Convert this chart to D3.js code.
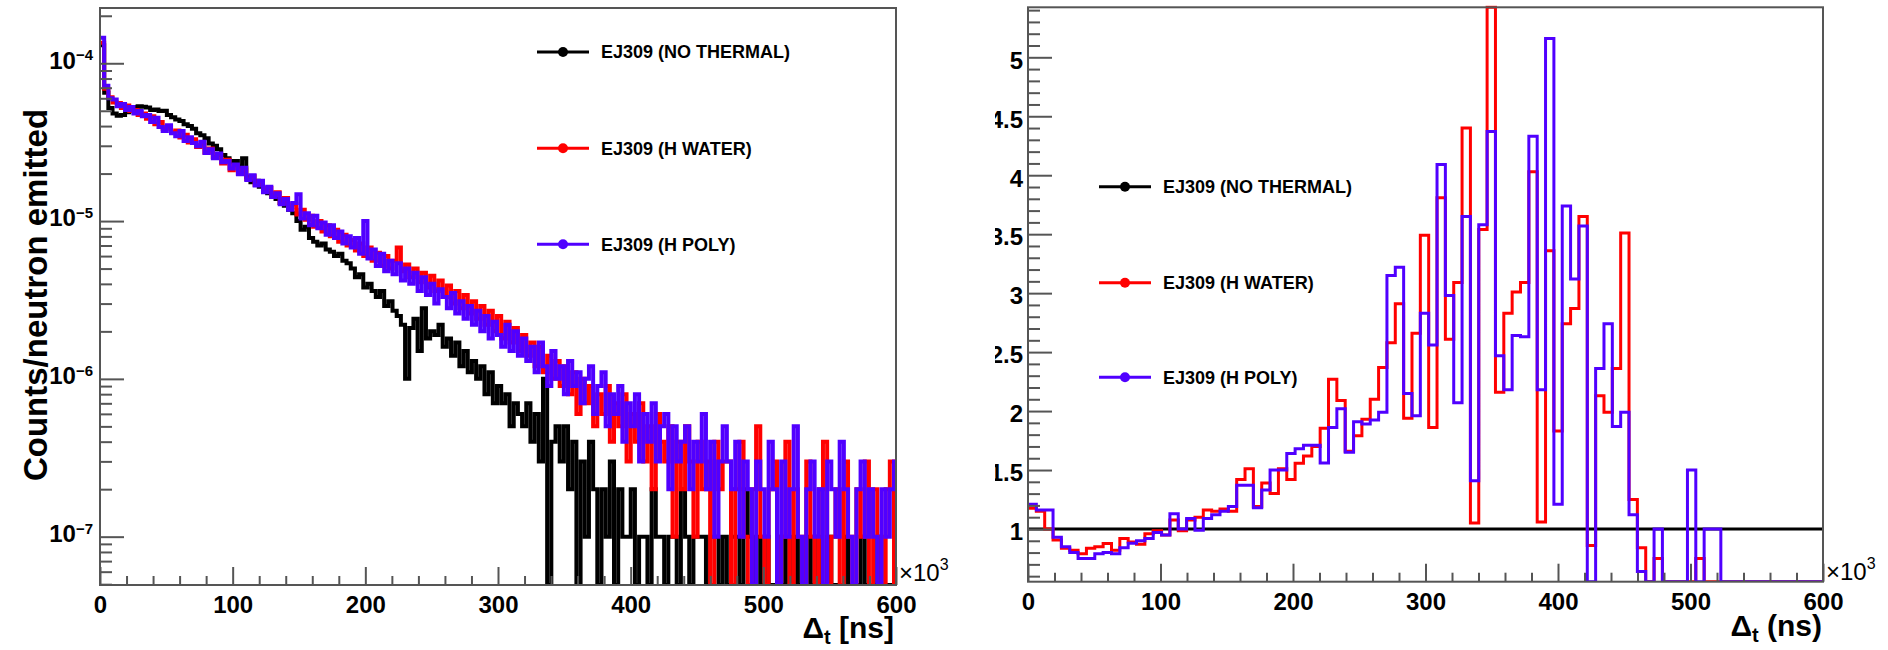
<!DOCTYPE html>
<html>
<head>
<meta charset="utf-8">
<script src="https://cdn.jsdelivr.net/npm/d3@7"></script>
<style>
  body { margin: 0; background: #fff; }
  svg { display: block; }
  text { font-family: "Liberation Sans", Arial, Helvetica, sans-serif; }
</style>
</head>
<body>
<svg id="chart" width="1888" height="650"></svg>
<script>
// ---------------- data ----------------
const seriesNames  = ["EJ309 (NO THERMAL)", "EJ309 (H WATER)", "EJ309 (H POLY)"];
const seriesColors = ["#000000", "#ff0000", "#5000ff"];

// Left: time-difference spectra, counts per bin (1 count = 1e-7 per neutron emitted)
const countUnit = 1e-7;
const spectrumBinWidth = 3.15;   // ×10^3 ns
const countsNoThermal = [
  1300, 650, 520, 480, 465, 470, 490, 510, 528, 535,
  530, 525, 505, 510, 498, 500, 470, 455, 440, 430,
  410, 400, 385, 360, 350, 335, 310, 300, 285, 262,
  250, 238, 240, 222, 250, 190, 176, 180, 165, 158,
  150, 142, 138, 130, 125, 118, 112, 100, 88, 92,
  78, 74, 70, 72, 66, 64, 60, 62, 56, 54,
  50, 44, 46, 38, 40, 36, 33, 36, 29, 31,
  27, 25, 22, 10, 21, 24, 15, 28, 18, 20,
  19, 22, 16, 18, 14, 17, 12, 15, 11, 13,
  10, 12, 8, 11, 7, 9, 7, 8, 5, 7,
  6, 5, 7, 4, 6, 3, 10, 0, 4, 5,
  3, 5, 2, 4, 0, 3, 1, 4, 2, 0,
  2, 1, 3, 0, 2, 1, 1, 2, 0, 1,
  1, 0, 2, 1, 1, 0, 1, 1, 0, 2,
  1, 0, 1, 1, 1, 0, 1, 1, 0, 1,
  0, 1, 1, 0, 2, 1, 0, 1, 0, 1,
  0, 0, 1, 0, 1, 0, 1, 0, 0, 1,
  0, 1, 0, 0, 1, 0, 0, 0, 1, 0,
  0, 0, 1, 0, 0, 0, 1, 0, 0, 0, 0
];
const countsWater = [
  1350, 690, 610, 565, 560, 520, 540, 498, 505, 470,
  480, 445, 462, 410, 425, 385, 398, 365, 375, 338,
  352, 315, 330, 295, 305, 272, 288, 255, 262, 232,
  245, 210, 226, 200, 212, 185, 192, 170, 178, 158,
  162, 145, 152, 130, 140, 122, 128, 110, 118, 102,
  108, 92, 100, 86, 94, 80, 88, 74, 82, 70,
  76, 65, 72, 60, 68, 56, 63, 52, 60, 50,
  56, 68, 48, 53, 44, 50, 41, 47, 38, 45,
  36, 42, 33, 39, 30, 36, 28, 34, 26, 31,
  24, 29, 22, 27, 20, 25, 18, 23, 17, 21,
  15, 19, 14, 17, 12, 16, 11, 14, 10, 13,
  9, 12, 8, 11, 6, 10, 7, 9, 5, 8,
  6, 9, 4, 7, 5, 8, 3, 6, 4, 7,
  3, 5, 2, 6, 4, 3, 5, 1, 4, 2,
  5, 3, 1, 4, 2, 3, 0, 4, 2, 3,
  3, 0, 2, 4, 1, 0, 2, 5, 1, 0,
  2, 3, 0, 1, 4, 0, 2, 1, 0, 3,
  1, 0, 2, 4, 0, 1, 2, 0, 3, 1,
  0, 2, 1, 3, 0, 2, 1, 0, 2, 3, 0
];
const countsPoly = [
  1450, 720, 600, 590, 535, 552, 505, 528, 480, 498,
  462, 470, 425, 452, 395, 372, 405, 360, 345, 372,
  322, 340, 312, 298, 318, 270, 285, 250, 268, 236,
  240, 215, 228, 198, 218, 182, 195, 168, 180, 152,
  165, 142, 150, 128, 138, 118, 130, 148, 104, 112,
  94, 108, 90, 98, 82, 94, 78, 86, 72, 80,
  68, 78, 62, 100, 58, 66, 52, 62, 48, 56,
  46, 54, 42, 50, 40, 47, 36, 44, 34, 40,
  30, 37, 33, 28, 35, 26, 31, 24, 29, 22,
  27, 20, 25, 18, 23, 19, 16, 22, 15, 20,
  14, 18, 13, 16, 11, 17, 12, 9, 15, 10,
  12, 8, 13, 9, 11, 7, 10, 12, 6, 9,
  11, 5, 8, 6, 9, 4, 7, 5, 8, 3,
  6, 4, 7, 3, 5, 6, 2, 5, 3, 4,
  5, 2, 4, 3, 6, 2, 4, 1, 3, 5,
  3, 2, 4, 1, 3, 2, 0, 3, 2, 1,
  4, 2, 0, 3, 1, 2, 5, 1, 0, 2,
  3, 1, 2, 0, 3, 2, 1, 4, 2, 1,
  0, 2, 3, 1, 2, 1, 0, 2, 1, 2, 3
];

// Right: ratio to the no-thermal spectrum
const ratioBinWidth = 6.3;       // ×10^3 ns
const ratioNoThermal = [
  1,1,1,1,1,1,1,1,1,1, 1,1,1,1,1,1,1,1,1,1, 1,1,1,1,1,1,1,1,1,1,
  1,1,1,1,1,1,1,1,1,1, 1,1,1,1,1,1,1,1,1,1, 1,1,1,1,1,1,1,1,1,1,
  1,1,1,1,1,1,1,1,1,1, 1,1,1,1,1,1,1,1,1,1, 1,1,1,1,1,1,1,1,1,1,
  1,1,1,1,1,1
];
const ratioWater = [
  1.175, 1.15, 1.00, 0.907, 0.836, 0.82, 0.79, 0.836, 0.85, 0.878,
  0.82, 0.92, 0.89, 0.87, 0.96, 0.985, 0.95, 1.076, 0.985, 1.076,
  1.10, 1.16, 1.15, 1.17, 1.15, 1.42, 1.51, 1.19, 1.39, 1.30,
  1.51, 1.42, 1.557, 1.62, 1.70, 1.854, 2.27, 2.09, 1.66, 1.79,
  1.93, 2.10, 2.37, 2.58, 2.91, 1.94, 2.66, 3.49, 1.86, 3.81,
  2.61, 3.09, 4.40, 1.05, 3.54, 5.60, 2.16, 2.83, 3.01, 3.09,
  4.03, 1.06, 3.36, 1.83, 2.74, 2.87, 3.65, 0.86, 2.13, 1.99,
  2.36, 3.51, 1.25, 0.84, 0, 0.75, 0, 0, 0, 0,
  0.75, 0, 0, 0, 0, 0, 0, 0, 0, 0,
  0, 0, 0, 0, 0, 0
];
const ratioPoly = [
  1.21, 1.16, 1.16, 0.93, 0.85, 0.80, 0.75, 0.75, 0.79, 0.80,
  0.79, 0.84, 0.88, 0.90, 0.92, 0.97, 0.95, 1.13, 1.00, 1.09,
  0.99, 1.09, 1.12, 1.15, 1.19, 1.37, 1.37, 1.18, 1.33, 1.50,
  1.50, 1.64, 1.68, 1.71, 1.71, 1.56, 1.86, 2.02, 1.65, 1.91,
  1.89, 1.925, 1.99, 3.15, 3.22, 2.15, 1.96, 2.83, 2.56, 4.09,
  2.98, 2.07, 3.65, 1.41, 3.58, 4.37, 2.47, 2.18, 2.64, 2.63,
  4.33, 2.18, 5.16, 1.21, 3.74, 3.12, 3.57, 0, 2.36, 2.74,
  1.87, 1.99, 1.12, 0.64, 0, 1.00, 0, 0, 0, 1.50,
  0, 1.00, 1.00, 0, 0, 0, 0, 0, 0, 0,
  0, 0, 0, 0, 0, 0
];

const xTicksMajor = [0, 100, 200, 300, 400, 500, 600];
const logMajorExp = [-7, -6, -5, -4];
const ratioMajor = [1, 1.5, 2, 2.5, 3, 3.5, 4, 4.5, 5];

// ---------------- drawing ----------------
const svg = d3.select("#chart");
const FRAME = "#555";
const FONT = '"Liberation Sans", Arial, Helvetica, sans-serif';

function stepPath(values, binW, x, y) {
  let d = "";
  values.forEach((v, i) => {
    const x0 = x(i * binW), x1 = x((i + 1) * binW), yy = y(v);
    d += (i === 0 ? `M${x0},${yy}` : `V${yy}`) + `H${x1}`;
  });
  return d;
}

function minorRange(lo, hi, step, skip) {
  const out = [];
  for (let v = lo; v <= hi + 1e-9; v += step) {
    const r = Math.round(v * 1000) / 1000;
    if (!skip.some(s => Math.abs(s - r) < 1e-6)) out.push(r);
  }
  return out;
}

function xAxis(g, x, bottom) {
  const minors = minorRange(0, 600, 20, xTicksMajor);
  g.append("g").attr("transform", `translate(0,${bottom})`)
    .call(d3.axisBottom(x).tickValues(minors).tickSize(-9).tickFormat(""))
    .call(s => s.select(".domain").remove());
  g.append("g").attr("transform", `translate(0,${bottom})`)
    .call(d3.axisBottom(x).tickValues(xTicksMajor).tickSize(-18).tickPadding(11).tickFormat(d3.format("d")))
    .call(s => s.select(".domain").remove())
    .call(s => s.selectAll("text").attr("font-size", 24).attr("font-weight", "bold")
      .attr("font-family", FONT).attr("fill", "#000"));
  g.selectAll(".tick line").attr("stroke", FRAME).attr("stroke-width", 2);
}

function frame(g, x0, y0, x1, y1) {
  g.append("rect").attr("x", x0).attr("y", y0).attr("width", x1 - x0).attr("height", y1 - y0)
    .attr("fill", "none").attr("stroke", FRAME).attr("stroke-width", 2);
}

function exponentLabel(g, xPos, yPos) {
  g.append("text").attr("x", xPos).attr("y", yPos).attr("font-size", 24).attr("fill", "#000")
    .text("\u00d710").append("tspan").attr("font-size", 16).attr("dy", "-0.7em").text("3");
}

function axisTitle(g, xRight, yBase, unit) {
  const t = g.append("text").attr("x", xRight).attr("y", yBase).attr("text-anchor", "end")
    .attr("font-size", 30).attr("font-weight", "bold").attr("fill", "#000");
  t.append("tspan").text("\u0394");
  t.append("tspan").attr("font-size", 20).attr("dy", 6).text("t");
  t.append("tspan").attr("dy", -6).text(" " + unit);
}

function legend(g, x0, rows) {
  rows.forEach((yy, i) => {
    g.append("line").attr("x1", x0).attr("x2", x0 + 52).attr("y1", yy).attr("y2", yy)
      .attr("stroke", seriesColors[i]).attr("stroke-width", 3);
    g.append("circle").attr("cx", x0 + 26).attr("cy", yy).attr("r", 5).attr("fill", seriesColors[i]);
    g.append("text").attr("x", x0 + 64).attr("y", yy).attr("dy", "0.36em").attr("font-size", 18)
      .attr("font-weight", "bold").attr("fill", "#000").text(seriesNames[i]);
  });
}

// ===== Left panel =====
{
  const L = { x0: 100, x1: 896, y0: 8, y1: 585 };
  const x = d3.scaleLinear().domain([0, 600]).range([L.x0, L.x1]);
  const y = d3.scaleLog().domain([4.94e-8, 2.24e-4]).range([L.y1, L.y0]).clamp(true);
  const yv = v => v > 0 ? y(v) : L.y1;
  const g = svg.append("g");

  svg.append("defs").append("clipPath").attr("id", "clipL")
    .append("rect").attr("x", L.x0).attr("y", L.y0 - 2).attr("width", L.x1 - L.x0).attr("height", L.y1 - L.y0 + 2);

  const spectra = [countsNoThermal, countsWater, countsPoly];
  const plot = g.append("g").attr("clip-path", "url(#clipL)");
  spectra.forEach((c, i) => {
    plot.append("path")
      .attr("d", stepPath(c.map(n => n * countUnit), spectrumBinWidth, x, yv))
      .attr("fill", "none").attr("stroke", seriesColors[i]).attr("stroke-width", 4)
      .attr("stroke-linejoin", "miter");
  });

  // y axis (log)
  const majors = logMajorExp.map(e => Math.pow(10, e));
  const minors = [];
  for (let e = -8; e <= -4; e++) for (let m = 2; m <= 9; m++) {
    const v = m * Math.pow(10, e);
    if (v >= 4.94e-8 && v <= 2.24e-4) minors.push(v);
  }
  g.append("g").attr("transform", `translate(${L.x0},0)`)
    .call(d3.axisLeft(y).tickValues(minors).tickSize(-12).tickFormat(""))
    .call(s => s.select(".domain").remove());
  const ya = g.append("g").attr("transform", `translate(${L.x0},0)`)
    .call(d3.axisLeft(y).tickValues(majors).tickSize(-24).tickPadding(7).tickFormat(""))
    .call(s => s.select(".domain").remove());
  ya.selectAll(".tick text").each(function (d) {
    const t = d3.select(this).attr("font-family", FONT).attr("font-weight", "bold").attr("fill", "#000")
      .attr("dy", "0.48em");
    t.append("tspan").attr("font-size", 24).text("10");
    t.append("tspan").attr("font-size", 15).attr("dy", "-0.55em")
      .text("\u2212" + Math.abs(Math.round(Math.log10(d))));
  });
  g.selectAll(".tick line").attr("stroke", FRAME).attr("stroke-width", 2);

  xAxis(g, x, L.y1);
  frame(g, L.x0, L.y0, L.x1, L.y1);
  exponentLabel(g, 899, 581);
  axisTitle(g, L.x1 - 2, 638, "[ns]");

  g.append("text").attr("transform", `translate(47,295) rotate(-90)`).attr("text-anchor", "middle")
    .attr("font-size", 33).attr("font-weight", "bold").attr("fill", "#000")
    .text("Counts/neutron emitted");

  legend(g.append("g"), 537, [52, 148.3, 244.3]);
}

// ===== Right panel =====
{
  const R = { x0: 1028, x1: 1823, y0: 7.3, y1: 581.7 };
  const x = d3.scaleLinear().domain([0, 600]).range([R.x0, R.x1]);
  const y = d3.scaleLinear().domain([0.553, 5.424]).range([R.y1, R.y0]).clamp(true);
  const defs = svg.append("defs");
  defs.append("clipPath").attr("id", "clipPanelR")
    .append("rect").attr("x", 995).attr("y", 0).attr("width", 893).attr("height", 650);
  defs.append("clipPath").attr("id", "clipR")
    .append("rect").attr("x", R.x0).attr("y", R.y0 - 2).attr("width", R.x1 - R.x0).attr("height", R.y1 - R.y0 + 2);

  const g = svg.append("g").attr("clip-path", "url(#clipPanelR)");
  const plot = g.append("g").attr("clip-path", "url(#clipR)");
  [ratioNoThermal, ratioWater, ratioPoly].forEach((r, i) => {
    plot.append("path")
      .attr("d", stepPath(r, ratioBinWidth, x, y))
      .attr("fill", "none").attr("stroke", seriesColors[i]).attr("stroke-width", 3)
      .attr("stroke-linejoin", "miter");
  });

  const minors = minorRange(0.6, 5.4, 0.1, ratioMajor);
  g.append("g").attr("transform", `translate(${R.x0},0)`)
    .call(d3.axisLeft(y).tickValues(minors).tickSize(-12).tickFormat(""))
    .call(s => s.select(".domain").remove());
  g.append("g").attr("transform", `translate(${R.x0},0)`)
    .call(d3.axisLeft(y).tickValues(ratioMajor).tickSize(-24).tickPadding(5).tickFormat(d3.format("~g")))
    .call(s => s.select(".domain").remove())
    .call(s => s.selectAll("text").attr("font-size", 24).attr("font-weight", "bold")
      .attr("font-family", FONT).attr("fill", "#000").attr("dy", "0.45em"));
  g.selectAll(".tick line").attr("stroke", FRAME).attr("stroke-width", 2);

  xAxis(g, x, R.y1);
  frame(g, R.x0, R.y0, R.x1, R.y1);
  exponentLabel(g, 1826, 580);
  axisTitle(g, R.x1 - 1, 636, "(ns)");

  legend(g.append("g"), 1099, [186.7, 282.7, 377.3]);
}
</script>
</body>
</html>
